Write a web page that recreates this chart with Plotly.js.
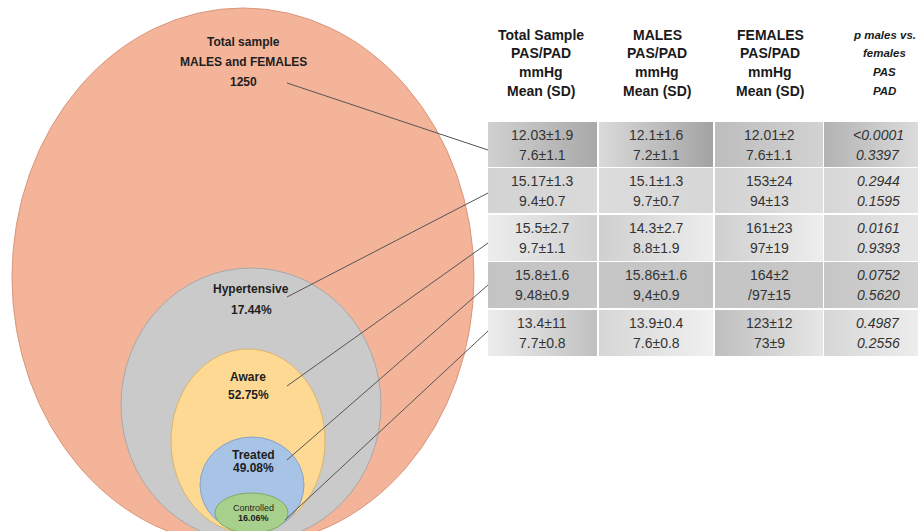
<!DOCTYPE html>
<html>
<head>
<meta charset="utf-8">
<script src="https://cdn.plot.ly/plotly-3.0.1.min.js"></script>
<style>html,body{margin:0;padding:0;background:#fff;}#chart{width:918px;height:531px;}</style>
</head>
<body>
<div id="chart"></div>
<script>
// ---------- DATA ----------
const groups = ['Total sample', 'Hypertensive', 'Aware', 'Treated', 'Controlled'];
const groupSubtitle = 'MALES and FEMALES';
const groupValues = ['1250', '17.44%', '52.75%', '49.08%', '16.06%'];

const colHeaders = [
  ['Total Sample', 'PAS/PAD', 'mmHg', 'Mean (SD)'],
  ['MALES', 'PAS/PAD', 'mmHg', 'Mean (SD)'],
  ['FEMALES', 'PAS/PAD', 'mmHg', 'Mean (SD)'],
  ['p males vs.', 'females', 'PAS', 'PAD']
];
const totalPAS   = ['12.03±1.9', '15.17±1.3', '15.5±2.7', '15.8±1.6', '13.4±11'];
const totalPAD   = ['7.6±1.1', '9.4±0.7', '9.7±1.1', '9.48±0.9', '7.7±0.8'];
const malesPAS   = ['12.1±1.6', '15.1±1.3', '14.3±2.7', '15.86±1.6', '13.9±0.4'];
const malesPAD   = ['7.2±1.1', '9.7±0.7', '8.8±1.9', '9,4±0.9', '7.6±0.8'];
const femalesPAS = ['12.01±2', '153±24', '161±23', '164±2', '123±12'];
const femalesPAD = ['7.6±1.1', '94±13', '97±19', '/97±15', '73±9'];
const pPAS       = ['<0.0001', '0.2944', '0.0161', '0.0752', '0.4987'];
const pPAD       = ['0.3397', '0.1595', '0.9393', '0.5620', '0.2556'];

// ---------- GEOMETRY & STYLE ----------
const ellipses = [ // cx, cy, rx, ry
  {cx: 243, cy: 277, rx: 231, ry: 269, fill: '#F4B49A', line: '#D9967C'},
  {cx: 251, cy: 405, rx: 130, ry: 137, fill: '#CACACA', line: '#A8A8A8'},
  {cx: 248, cy: 441, rx: 77,  ry: 92,  fill: '#FDD993', line: '#D9B46E'},
  {cx: 252, cy: 485, rx: 52,  ry: 48,  fill: '#A7C3E6', line: '#8AA3C4'},
  {cx: 251.5, cy: 513, rx: 36.5, ry: 20, fill: '#A8D08D', line: '#7FA866'}
];
const labelPos = [ // x, y of name line, y of value line
  {x: 243, y: [42, 62, 82], size: 12, bold: [true, true, true]},
  {x: 251, y: [289, 310], size: 12, bold: [true, true]},
  {x: 248, y: [377, 395], size: 12, bold: [true, true]},
  {x: 253, y: [455, 468], size: 12, bold: [true, true]},
  {x: 253, y: [508, 518], size: 9, bold: [false, true]}
];
const connStart = [[287, 83], [287, 297], [287, 386], [287, 460], [285, 520]];
const connEndY = [150, 193, 243, 285, 331];

const colEdges = [[488, 597], [599, 713], [715, 823], [824, 930]];
const colTextX = [542, 656, 769, 878];
const headerX = [541, 657, 770, 884];
const headerY = [35, 53, 72, 91];
const rowEdges = [[122, 167], [168, 213], [215, 261], [262, 308], [310, 356]];

const cellColors = [ // [left, right] for each row / column
  [['#D0D0D0', '#A9A9A9'], ['#DADADA', '#A3A3A3'], ['#BDBDBD', '#D2D2D2'], ['#B3B3B3', '#E0E0E0']],
  [['#D3D3D3', '#DADADA'], ['#DCDCDC', '#D6D6D6'], ['#D2D2D2', '#E0E0E0'], ['#D6D6D6', '#E6E6E6']],
  [['#EDEDED', '#D0D0D0'], ['#CFCFCF', '#EDEDED'], ['#CFCFCF', '#EEEEEE'], ['#D6D6D6', '#E8E8E8']],
  [['#C4C4C4', '#C6C6C6'], ['#C6C6C6', '#C4C4C4'], ['#C4C4C4', '#C8C8C8'], ['#C6C6C6', '#D2D2D2']],
  [['#EDEDED', '#C0C0C0'], ['#D6D6D6', '#F0F0F0'], ['#BFBFBF', '#E6E6E6'], ['#D6D6D6', '#F0F0F0']]
];

const FONT = 'Liberation Sans, Arial, sans-serif';

// ---------- BUILD ----------
const shapes = [];
ellipses.forEach(e => {
  shapes.push({type: 'circle', xref: 'x', yref: 'y', layer: 'below',
    x0: e.cx - e.rx, x1: e.cx + e.rx, y0: e.cy - e.ry, y1: e.cy + e.ry,
    fillcolor: e.fill, line: {color: e.line, width: 1}});
});
const traces = [];
rowEdges.forEach((r, ri) => {
  colEdges.forEach((c, ci) => {
    const cols = cellColors[ri][ci];
    traces.push({type: 'scatter', mode: 'lines', hoverinfo: 'skip', showlegend: false,
      x: [c[0], c[1], c[1], c[0], c[0]], y: [r[0], r[0], r[1], r[1], r[0]],
      fill: 'toself', line: {width: 0, color: 'rgba(0,0,0,0)'},
      fillgradient: {type: 'horizontal', colorscale: [[0, cols[0]], [1, cols[1]]]}});
  });
});
connStart.forEach((s, i) => {
  traces.push({type: 'scatter', mode: 'lines', hoverinfo: 'skip', showlegend: false,
    x: [s[0], colEdges[0][0]], y: [s[1], connEndY[i]],
    line: {color: '#555555', width: 1}});
});

const annotations = [];
function ann(x, y, text, font) {
  annotations.push({x: x, y: y, xref: 'x', yref: 'y', text: text, showarrow: false,
    xanchor: 'center', yanchor: 'middle', font: font});
}
groups.forEach((g, i) => {
  const p = labelPos[i];
  const lines = i === 0 ? [g, groupSubtitle, groupValues[i]] : [g, groupValues[i]];
  lines.forEach((t, k) => ann(p.x, p.y[k], p.bold[k] ? '<b>' + t + '</b>' : t,
    {family: FONT, size: p.size, color: '#1e1e1e'}));
});
colHeaders.forEach((h, ci) => {
  h.forEach((t, k) => {
    if (ci === 3) {
      ann(headerX[ci], headerY[k], '<b><i>' + t + '</i></b>', {family: FONT, size: 11.5, color: '#1a1a1a'});
    } else {
      ann(headerX[ci], headerY[k], '<b>' + t + '</b>', {family: FONT, size: 14, color: '#1a1a1a'});
    }
  });
});
const pasCols = [totalPAS, malesPAS, femalesPAS, pPAS];
const padCols = [totalPAD, malesPAD, femalesPAD, pPAD];
rowEdges.forEach((r, ri) => {
  for (let ci = 0; ci < 4; ci++) {
    const wrap = t => ci === 3 ? '<i>' + t + '</i>' : t;
    const f = {family: FONT, size: 14, color: '#333'};
    ann(colTextX[ci], r[0] + 13, wrap(pasCols[ci][ri]), f);
    ann(colTextX[ci], r[0] + 33, wrap(padCols[ci][ri]), f);
  }
});

const layout = {
  width: 918, height: 531,
  margin: {l: 0, r: 0, t: 0, b: 0, pad: 0},
  paper_bgcolor: '#ffffff', plot_bgcolor: '#ffffff',
  xaxis: {range: [0, 918], visible: false, fixedrange: true},
  yaxis: {range: [531, 0], visible: false, fixedrange: true},
  shapes: shapes, annotations: annotations, showlegend: false
};
Plotly.newPlot('chart', traces, layout, {staticPlot: true, displayModeBar: false});
</script>
</body>
</html>
